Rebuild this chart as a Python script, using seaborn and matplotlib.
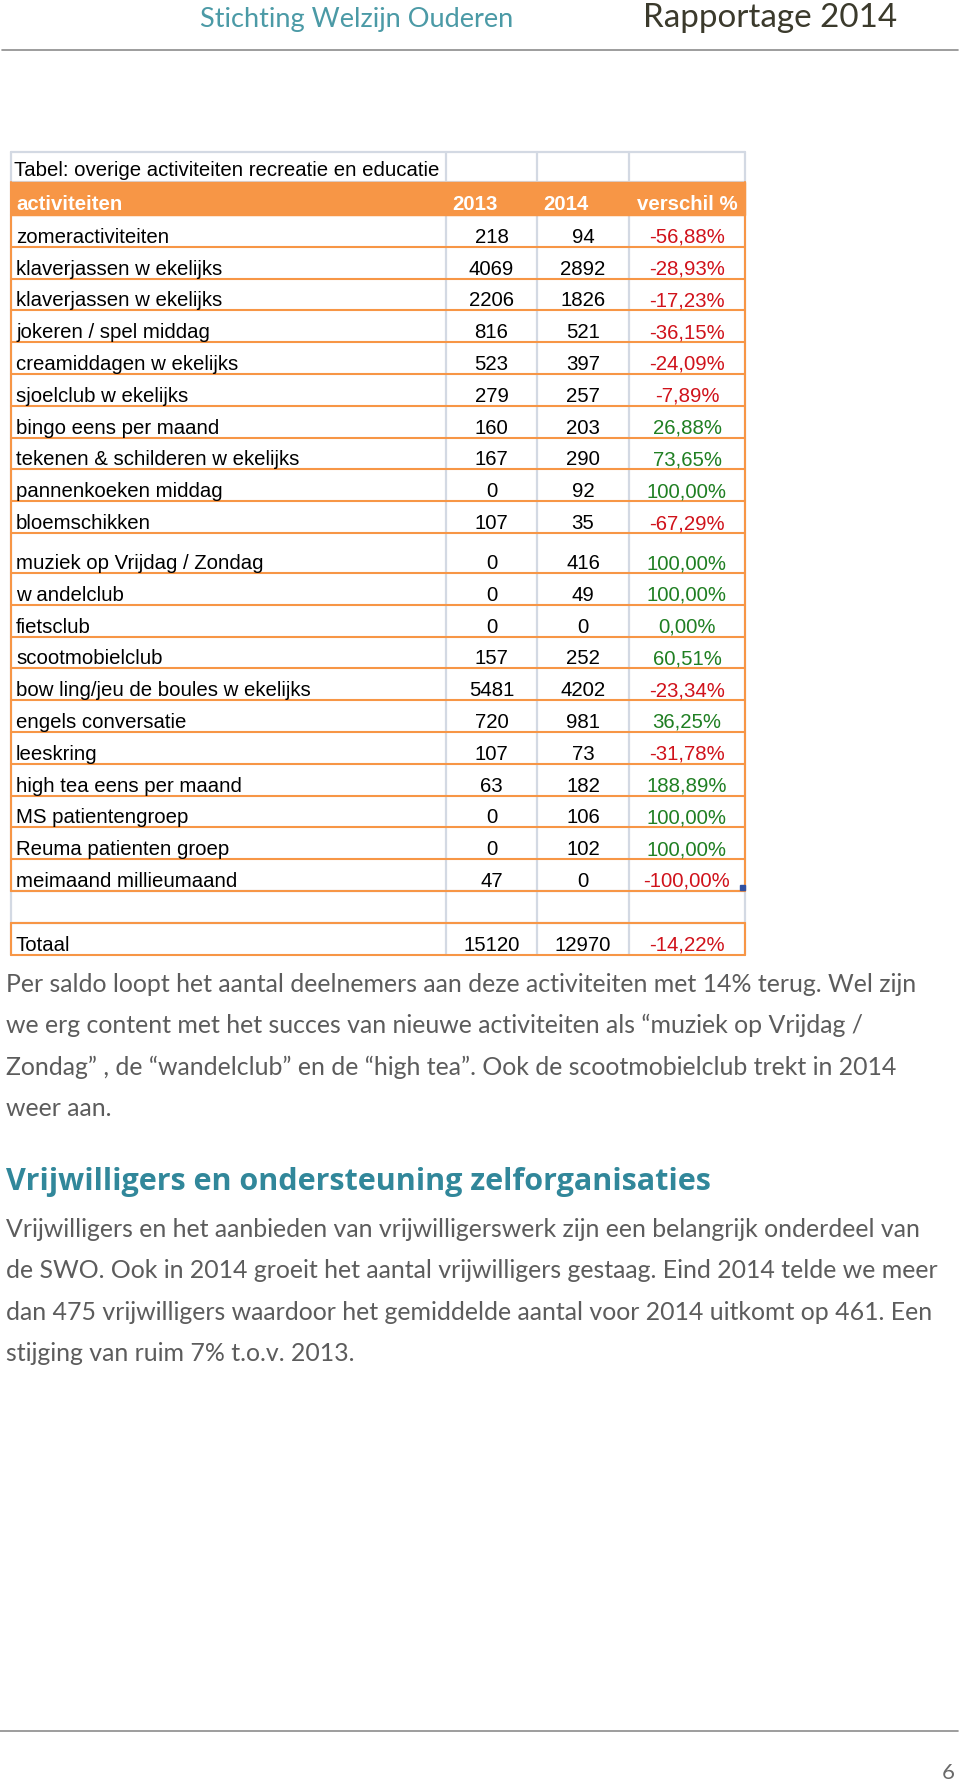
import matplotlib
matplotlib.use("Agg")
import matplotlib.pyplot as plt
from matplotlib import font_manager as fm
from matplotlib.patches import Rectangle
import seaborn as sns

# --- data ----------------------------------------------------------------
activities = [
    "zomeractiviteiten", "klaverjassen w ekelijks", "klaverjassen w ekelijks",
    "jokeren / spel middag", "creamiddagen w ekelijks", "sjoelclub w ekelijks",
    "bingo eens per maand", "tekenen & schilderen w ekelijks", "pannenkoeken middag",
    "bloemschikken", "muziek op Vrijdag / Zondag", "w andelclub", "fietsclub",
    "scootmobielclub", "bow ling/jeu de boules w ekelijks", "engels conversatie",
    "leeskring", "high tea eens per maand", "MS patientengroep",
    "Reuma patienten groep", "meimaand millieumaand",
]
n2013 = [218, 4069, 2206, 816, 523, 279, 160, 167, 0, 107, 0, 0, 0, 157, 5481,
         720, 107, 63, 0, 0, 47]
n2014 = [94, 2892, 1826, 521, 397, 257, 203, 290, 92, 35, 416, 49, 0, 252, 4202,
         981, 73, 182, 106, 102, 0]
verschil = [-56.88, -28.93, -17.23, -36.15, -24.09, -7.89, 26.88, 73.65, 100.00,
            -67.29, 100.00, 100.00, 0.00, 60.51, -23.34, 36.25, -31.78, 188.89,
            100.00, 100.00, -100.00]
totaal = ("Totaal", 15120, 12970, -14.22)
col_headers = ["activiteiten", "2013", "2014", "verschil %"]
table_title = "Tabel: overige activiteiten recreatie en educatie"

para1 = [
    "Per saldo loopt het aantal deelnemers aan deze activiteiten met 14% terug. Wel zijn",
    "we erg content met het succes van nieuwe activiteiten als \u201cmuziek op Vrijdag /",
    "Zondag\u201d , de \u201cwandelclub\u201d en de \u201chigh tea\u201d. Ook de scootmobielclub trekt in 2014",
    "weer aan.",
]
heading = "Vrijwilligers en ondersteuning zelforganisaties"
para2 = [
    "Vrijwilligers en het aanbieden van vrijwilligerswerk zijn een belangrijk onderdeel van",
    "de SWO. Ook in 2014 groeit het aantal vrijwilligers gestaag. Eind 2014 telde we meer",
    "dan 475 vrijwilligers waardoor het gemiddelde aantal voor 2014 uitkomt op 461. Een",
    "stijging van ruim 7% t.o.v. 2013.",
]

# --- style ---------------------------------------------------------------
sns.set_theme(style="white")
installed = {f.name for f in fm.fontManager.ttflist}
table_font = ["Liberation Sans Narrow" if "Liberation Sans Narrow" in installed
              else "Liberation Sans", "DejaVu Sans"]
body_font = ["Lato", "Open Sans", "DejaVu Sans"]
head_font = ["Open Sans", "DejaVu Sans"]

ORANGE = "#f79646"
GRID = "#d3d9e3"
RED = "#d0121b"
GREEN = "#1f7f22"
BODY = "#5c5c5c"

W, H = 960, 1781
fig = plt.figure(figsize=(W / 100, H / 100), dpi=100)
ax = fig.add_axes([0, 0, 1, 1])
ax.set_xlim(0, W)
ax.set_ylim(H, 0)
ax.axis("off")
renderer = fig.canvas.get_renderer()


def fit_size(s, width, **kw):
    t = ax.text(0, 0, s, fontsize=10, **kw)
    w = t.get_window_extent(renderer).width
    t.remove()
    return 10 * width / w


def fmt_pct(v):
    return f"{v:.2f}%".replace(".", ",")


# --- page header -----------------------------------------------------------
ax.text(200, 27, "Stichting Welzijn Ouderen", color="#4b9aa6", family=body_font,
        fontsize=fit_size("Stichting Welzijn Ouderen", 314, family=body_font), va="baseline")
ax.text(643, 27, "Rapportage 2014", color="#3b3a2c", family=body_font,
        fontsize=fit_size("Rapportage 2014", 254, family=body_font), va="baseline")
ax.plot([2, 958], [51, 51], color="#8c8c8c", lw=1.2)

# --- table -------------------------------------------------------------------
cols = [11, 446, 537, 629, 745]
title_top, header_top, data_top = 153, 183, 216
row_h, tall_h = 31.8, 40
tall_rows = {"muziek op Vrijdag / Zondag"}
fs_tab = fit_size(table_title, 428, family=table_font)

edges = [data_top]
for name in activities:
    edges.append(edges[-1] + (tall_h if name in tall_rows else row_h))
empty_top = edges[-1]
tot_top = empty_top + row_h
tot_bot = tot_top + row_h

# gray grid (title row, empty row, inner column separators)
for x in cols:
    ax.plot([x, x], [title_top, tot_bot], color=GRID, lw=1.6, zorder=1)
for y in [title_top, header_top, empty_top, tot_top]:
    ax.plot([cols[0], cols[-1]], [y, y], color=GRID, lw=1.6, zorder=1)

# orange header band
ax.add_patch(Rectangle((cols[0], header_top), cols[-1] - cols[0], data_top - header_top,
                       color=ORANGE, zorder=2))
# orange row borders
for y in edges:
    ax.plot([cols[0], cols[-1]], [y, y], color=ORANGE, lw=1.5, zorder=3)
for x in [cols[0], cols[-1]]:
    ax.plot([x, x], [header_top, empty_top], color=ORANGE, lw=1.5, zorder=3)
    ax.plot([x, x], [tot_top, tot_bot], color=ORANGE, lw=1.5, zorder=3)
ax.plot([cols[0], cols[-1]], [tot_top, tot_top], color=ORANGE, lw=1.5, zorder=3)
ax.plot([cols[0], cols[-1]], [tot_bot, tot_bot], color=ORANGE, lw=1.5, zorder=3)

tkw = dict(family=table_font, fontsize=fs_tab, va="baseline", zorder=4)
ax.text(cols[0] + 3, header_top - 7, table_title, color="black", **tkw)
hx = [cols[0] + 5, cols[1] + 6, cols[2] + 6, cols[3] + 8]
for x, s in zip(hx, col_headers):
    ax.text(x, data_top - 6, s, color="white", fontweight="bold", **tkw)

centers = [(cols[i] + cols[i + 1]) / 2 for i in range(1, 4)]


def draw_row(bottom, name, a, b, pct):
    y = bottom - 5
    ax.text(cols[0] + 5, y, name, color="black", **tkw)
    ax.text(centers[0], y, str(a), color="black", ha="center", **tkw)
    ax.text(centers[1], y, str(b), color="black", ha="center", **tkw)
    ax.text(centers[2], y, fmt_pct(pct), color=GREEN if pct >= 0 else RED,
            ha="center", **tkw)


for i, (name, a, b, pct) in enumerate(zip(activities, n2013, n2014, verschil)):
    draw_row(edges[i + 1], name, a, b, pct)
draw_row(tot_bot, *totaal)

# little selection handle in the last activity cell
ax.add_patch(Rectangle((cols[-1] - 5, empty_top - 6), 5, 5, color="#3150a0", zorder=5))

# --- body text ----------------------------------------------------------------
fs_body = fit_size(para2[1], 932, family=body_font)
for i, line in enumerate(para1):
    ax.text(6, 992 + i * 41.5, line, family=body_font, fontsize=fs_body,
            color=BODY, va="baseline")
ax.text(6, 1190, heading, family=head_font, fontweight="bold", color="#31879a",
        fontsize=fit_size(heading, 707, family=head_font, fontweight="bold"), va="baseline")
for i, line in enumerate(para2):
    ax.text(6, 1237 + i * 41.5, line, family=body_font, fontsize=fs_body,
            color=BODY, va="baseline")

# --- footer -------------------------------------------------------------------
ax.plot([0, 958], [1732, 1732], color="#8c8c8c", lw=1.2)
ax.text(955, 1779, "6", family=body_font, fontsize=16, color="#6a6a6a",
        ha="right", va="baseline")

fig.savefig("out.png", dpi=100)
